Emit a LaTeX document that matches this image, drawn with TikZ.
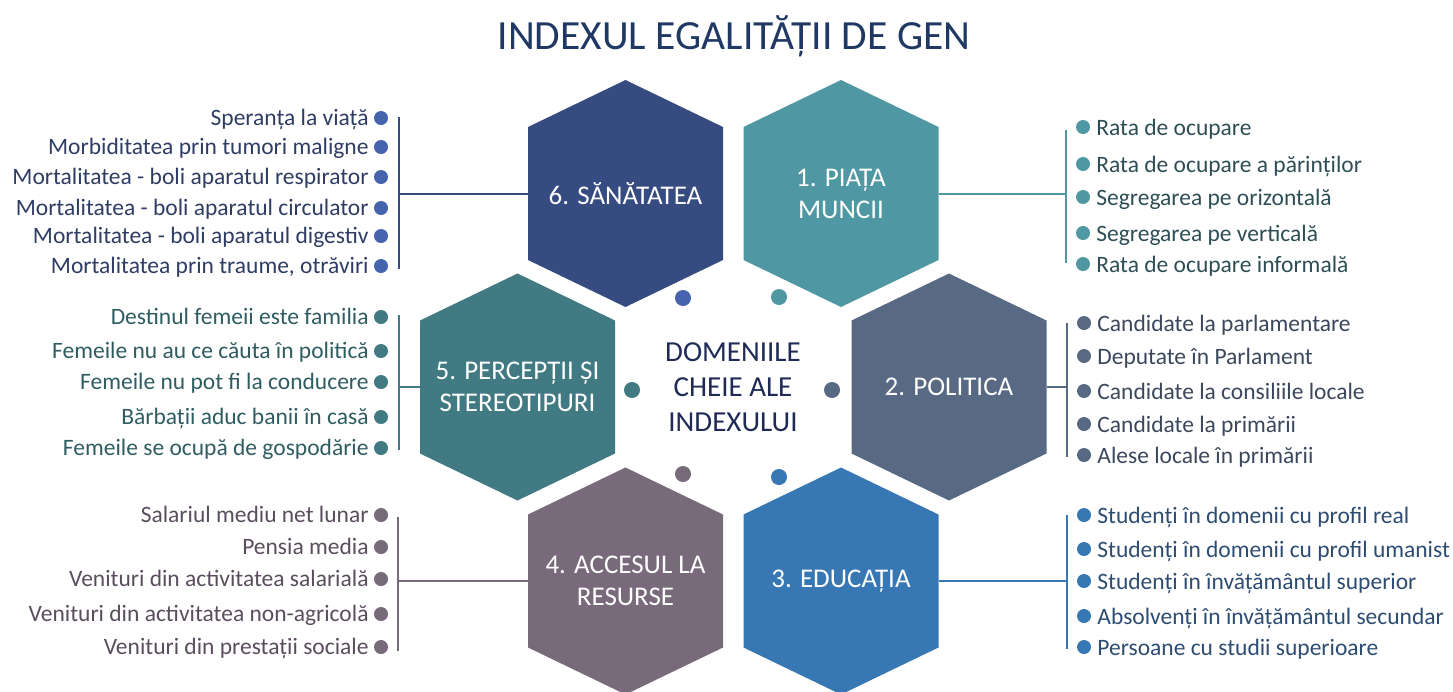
\documentclass[tikz,border=0pt]{standalone}
\usepackage{fontspec}
\setmainfont{Carlito}

\definecolor{hexsan}{HTML}{364B80}
\definecolor{bulsan}{HTML}{4663AE}
\definecolor{txtsan}{HTML}{2F3D64}
\definecolor{hexmun}{HTML}{4F98A3}
\definecolor{txtmun}{HTML}{2E4E55}
\definecolor{hexper}{HTML}{417A82}
\definecolor{txtper}{HTML}{2F5C61}
\definecolor{hexpol}{HTML}{586983}
\definecolor{txtpol}{HTML}{3B475C}
\definecolor{hexres}{HTML}{786A7B}
\definecolor{txtres}{HTML}{5A4D5D}
\definecolor{hexedu}{HTML}{3677B4}
\definecolor{txtedu}{HTML}{2D4C72}
\definecolor{titlec}{HTML}{203864}
\definecolor{centrec}{HTML}{1F2B56}

\tikzset{
  hexpath/.style={insert path={++(0,-113.5) -- ++(97.5,47) -- ++(0,133) -- ++(-97.5,47) -- ++(-97.5,-47) -- ++(0,-133) -- cycle}},
  hexlabel/.style={text=white, align=center, minimum width=195pt, inner sep=0pt, font=\fontsize{27}{32}\selectfont},
  bul/.style={circle, fill=#1, minimum size=14pt, inner sep=0pt},
  dot/.style={circle, fill=#1, minimum size=16pt, inner sep=0pt},
  itemL/.style={text=#1, inner sep=0pt, label distance=5pt, yshift=-2pt, text height=16pt, text depth=5pt, font=\fontsize{23.5}{27}\selectfont},
  itemR/.style={text=#1, inner sep=0pt, label distance=6pt, yshift=-3pt, text height=16pt, text depth=5pt, font=\fontsize{23.5}{27}\selectfont},
  conn/.style={line width=2pt}
}

\begin{document}
\begin{tikzpicture}[x=1pt, y=-1pt]

\useasboundingbox (0,0) rectangle (1453,691);

\node (title) at (734,49) [anchor=base, text=titlec, font=\fontsize{41.5}{48}\selectfont] {INDEXUL EGALITĂȚII DE GEN};

% hexagons
\coordinate (h6) at (625.5,193.5);
\coordinate (h1) at (841,193.5);
\coordinate (h5) at (517.5,387);
\coordinate (h2) at (949,387);
\coordinate (h4) at (625.5,581);
\coordinate (h3) at (841,581);

\fill[hexsan] (h6) [hexpath];
\fill[hexmun] (h1) [hexpath];
\fill[hexper] (h5) [hexpath];
\fill[hexpol] (h2) [hexpath];
\fill[hexres] (h4) [hexpath];
\fill[hexedu] (h3) [hexpath];

\node (p6) at (h6) [hexlabel] {6. SĂNĂTATEA};
\node (p1) at (h1) [hexlabel] {1. PIAȚA\\MUNCII};
\node (p5) at (h5) [hexlabel] {5. PERCEPȚII ȘI\\STEREOTIPURI};
\node (p2) at (h2) [hexlabel] {2. POLITICA};
\node (p4) at (h4) [hexlabel] {4. ACCESUL LA\\RESURSE};
\node (p3) at (h3) [hexlabel] {3. EDUCAȚIA};

% centre
\node (cx) at (733,387) [align=center, text=centrec, font=\fontsize{29}{35}\selectfont] {DOMENIILE\\CHEIE ALE\\INDEXULUI};

\node (d6) at (683,298) [dot=bulsan] {};
\node (d1) at (779,297) [dot=hexmun] {};
\node (d5) at (632,390) [dot=hexper] {};
\node (d2) at (832,390) [dot=hexpol] {};
\node (d4) at (683,474) [dot=hexres] {};
\node (d3) at (779,477) [dot=hexedu] {};

% 6. sanatatea
\node (s61) at (381,118) [bul=bulsan, label={[itemL=txtsan]west:Speranța la viață}] {};
\node (s62) at (381,147) [bul=bulsan, label={[itemL=txtsan]west:Morbiditatea prin tumori maligne}] {};
\node (s63) at (381,177) [bul=bulsan, label={[itemL=txtsan]west:Mortalitatea - boli aparatul respirator}] {};
\node (s64) at (381,208) [bul=bulsan, label={[itemL=txtsan]west:Mortalitatea - boli aparatul circulator}] {};
\node (s65) at (381,236) [bul=bulsan, label={[itemL=txtsan]west:Mortalitatea - boli aparatul digestiv}] {};
\node (s66) at (381,266) [bul=bulsan, label={[itemL=txtsan]west:Mortalitatea prin traume, otrăviri}] {};
\coordinate (k6) at (399,193.5);
\coordinate (k6t) at (399,117);
\coordinate (k6b) at (399,269);

% 5. perceptii
\node (s51) at (381,317) [bul=hexper, label={[itemL=txtper]west:Destinul femeii este familia}] {};
\node (s52) at (381,351) [bul=hexper, label={[itemL=txtper]west:Femeile nu au ce căuta în politică}] {};
\node (s53) at (381,382) [bul=hexper, label={[itemL=txtper]west:Femeile nu pot fi la conducere}] {};
\node (s54) at (381,417) [bul=hexper, label={[itemL=txtper]west:Bărbații aduc banii în casă}] {};
\node (s55) at (381,448) [bul=hexper, label={[itemL=txtper]west:Femeile se ocupă de gospodărie}] {};
\coordinate (k5) at (399,387);
\coordinate (k5t) at (399,315);
\coordinate (k5b) at (399,450);

% 4. resurse
\node (s41) at (381,515) [bul=hexres, label={[itemL=txtres]west:Salariul mediu net lunar}] {};
\node (s42) at (381,547) [bul=hexres, label={[itemL=txtres]west:Pensia media}] {};
\node (s43) at (381,579) [bul=hexres, label={[itemL=txtres]west:Venituri din activitatea salarială}] {};
\node (s44) at (381,614) [bul=hexres, label={[itemL=txtres]west:Venituri din activitatea non-agricolă}] {};
\node (s45) at (381,647) [bul=hexres, label={[itemL=txtres]west:Venituri din prestații sociale}] {};
\coordinate (k4) at (398,581);
\coordinate (k4t) at (398,517);
\coordinate (k4b) at (398,651);

% 1. piata muncii
\node (s11) at (1083,127) [bul=hexmun, label={[itemR=txtmun]east:Rata de ocupare}] {};
\node (s12) at (1083,164) [bul=hexmun, label={[itemR=txtmun]east:Rata de ocupare a părinților}] {};
\node (s13) at (1083,197) [bul=hexmun, label={[itemR=txtmun]east:Segregarea pe orizontală}] {};
\node (s14) at (1083,233) [bul=hexmun, label={[itemR=txtmun]east:Segregarea pe verticală}] {};
\node (s15) at (1083,264) [bul=hexmun, label={[itemR=txtmun]east:Rata de ocupare informală}] {};
\coordinate (k1) at (1066,193.5);
\coordinate (k1t) at (1066,130);
\coordinate (k1b) at (1066,263);

% 2. politica
\node (s21) at (1084,323) [bul=hexpol, label={[itemR=txtpol]east:Candidate la parlamentare}] {};
\node (s22) at (1084,356) [bul=hexpol, label={[itemR=txtpol]east:Deputate în Parlament}] {};
\node (s23) at (1084,391) [bul=hexpol, label={[itemR=txtpol]east:Candidate la consiliile locale}] {};
\node (s24) at (1084,424) [bul=hexpol, label={[itemR=txtpol]east:Candidate la primării}] {};
\node (s25) at (1084,455) [bul=hexpol, label={[itemR=txtpol]east:Alese locale în primării}] {};
\coordinate (k2) at (1067,387);
\coordinate (k2t) at (1067,323);
\coordinate (k2b) at (1067,457);

% 3. educatia
\node (s31) at (1084,515) [bul=hexedu, label={[itemR=txtedu]east:Studenți în domenii cu profil real}] {};
\node (s32) at (1084,549) [bul=hexedu, label={[itemR=txtedu]east:Studenți în domenii cu profil umanist}] {};
\node (s33) at (1084,581) [bul=hexedu, label={[itemR=txtedu]east:Studenți în învățământul superior}] {};
\node (s34) at (1084,616) [bul=hexedu, label={[itemR=txtedu]east:Absolvenți în învățământul secundar}] {};
\node (s35) at (1084,647) [bul=hexedu, label={[itemR=txtedu]east:Persoane cu studii superioare}] {};
\coordinate (k3) at (1067,581);
\coordinate (k3t) at (1067,515);
\coordinate (k3b) at (1067,649);

% connectors and brackets
\draw[conn, hexsan] (p6.west) -- (k6) (k6t) -- (k6b);
\draw[conn, hexper] (p5.west) -- (k5) (k5t) -- (k5b);
\draw[conn, hexres] (p4.west) -- (k4) (k4t) -- (k4b);
\draw[conn, hexmun] (p1.east) -- (k1) (k1t) -- (k1b);
\draw[conn, hexpol] (p2.east) -- (k2) (k2t) -- (k2b);
\draw[conn, hexedu] (p3.east) -- (k3) (k3t) -- (k3b);

\end{tikzpicture}
\end{document}
